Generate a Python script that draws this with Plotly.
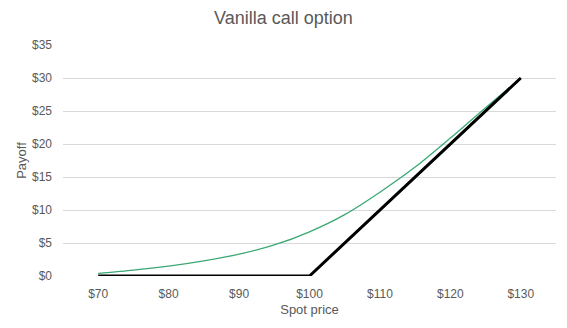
import plotly.graph_objects as go

# Data
spot = [70, 75, 80, 85, 90, 95, 100, 105, 110, 115, 120, 125, 130]
option_value = [0.4, 0.9, 1.5, 2.3, 3.3, 4.7, 6.7, 9.3, 12.7, 16.5, 20.9, 25.5, 30.0]
payoff_spot = [70, 100, 130]
payoff_value = [0, 0, 30]
x_ticks = [70, 80, 90, 100, 110, 120, 130]
x_labels = ["$70", "$80", "$90", "$100", "$110", "$120", "$130"]
y_ticks = [0, 5, 10, 15, 20, 25, 30, 35]
y_labels = ["$0", "$5", "$10", "$15", "$20", "$25", "$30", "$35"]

fig = go.Figure()
fig.add_trace(go.Scatter(x=spot, y=option_value, mode="lines",
                         line=dict(color="#3aa874", width=1.3, shape="spline", smoothing=0.8),
                         showlegend=False, hoverinfo="skip"))
fig.add_trace(go.Scatter(x=payoff_spot, y=payoff_value, mode="lines",
                         line=dict(color="#000000", width=3),
                         showlegend=False, hoverinfo="skip"))

font = "Liberation Sans, Arial, sans-serif"
fig.update_layout(
    width=567, height=328,
    margin=dict(l=63, r=11, t=45, b=52),
    paper_bgcolor="white", plot_bgcolor="white",
    font=dict(family=font, color="#595959", size=12),
    title=dict(text="Vanilla call option", x=0.5, xanchor="center", y=0.945, yanchor="middle",
               font=dict(family=font, size=18, color="#595959")),
    xaxis=dict(range=[65, 135], tickvals=x_ticks, ticktext=x_labels, showgrid=False,
               zeroline=False, showline=False, ticks="", ticklabelstandoff=9,
               tickfont=dict(size=12, color="#595959"),
               title=dict(text="Spot price", standoff=4, font=dict(size=13, color="#595959"))),
    yaxis=dict(range=[0, 35], tickvals=y_ticks, ticktext=y_labels, showgrid=True,
               gridcolor="#d9d9d9", gridwidth=1, zeroline=False, showline=False, ticks="",
               ticklabelstandoff=10, tickfont=dict(size=12, color="#595959"),
               title=dict(text="Payoff", standoff=2, font=dict(size=13, color="#595959"))),
)

fig.write_html("out.html")
